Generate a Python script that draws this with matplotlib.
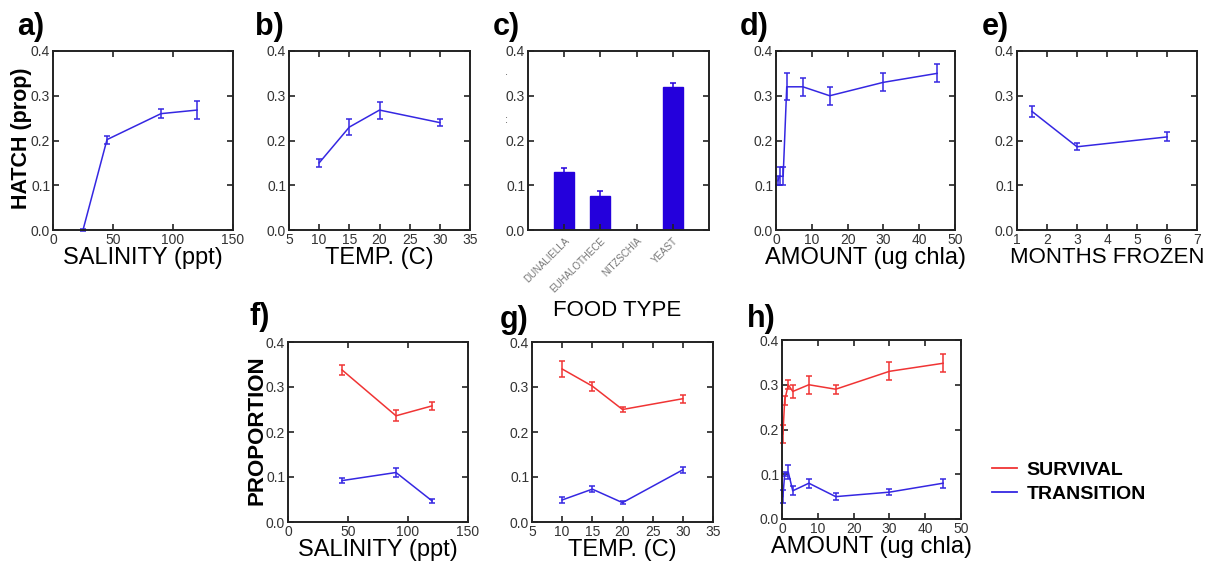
import matplotlib
matplotlib.use('Agg')
import matplotlib.pyplot as plt
import numpy as np
from matplotlib.ticker import FuncFormatter, MultipleLocator
from matplotlib.lines import Line2D

plt.rcParams['font.family'] = ['Liberation Sans', 'DejaVu Sans']

BLUE = '#3527e2'
BAR = '#2400dc'
RED = '#f03434'

# a) hatch vs salinity
sal_x = [25, 45, 90, 120]
sal_hatch = [0.0, 0.202, 0.26, 0.268]
sal_hatch_err = [0.003, 0.009, 0.01, 0.02]

# b) hatch vs temperature
temp_x = [10, 15, 20, 30]
temp_hatch = [0.15, 0.23, 0.268, 0.24]
temp_hatch_err = [0.009, 0.017, 0.019, 0.008]

# c) hatch vs food type
foods = ['DUNALIELLA', 'EUHALOTHECE', 'NITZSCHIA', 'YEAST']
food_hatch = [0.13, 0.075, 0.0, 0.32]
food_hatch_err = [0.008, 0.012, 0.0, 0.008]

# d) hatch vs food amount
amt_x = [0.5, 1, 2, 3, 7.5, 15, 30, 45]
amt_hatch = [0.11, 0.12, 0.12, 0.32, 0.32, 0.30, 0.33, 0.35]
amt_hatch_err = [0.01, 0.02, 0.02, 0.03, 0.02, 0.02, 0.02, 0.02]

# e) hatch vs months frozen
months_x = [1.5, 3, 6]
months_hatch = [0.265, 0.186, 0.208]
months_hatch_err = [0.012, 0.008, 0.01]

# f) survival / transition vs salinity
sal2_x = [45, 90, 120]
sal_surv = [0.338, 0.236, 0.258]
sal_surv_err = [0.012, 0.012, 0.008]
sal_trans = [0.092, 0.11, 0.047]
sal_trans_err = [0.005, 0.01, 0.004]

# g) survival / transition vs temperature
temp_surv = [0.34, 0.302, 0.25, 0.274]
temp_surv_err = [0.018, 0.01, 0.006, 0.009]
temp_trans = [0.049, 0.073, 0.043, 0.116]
temp_trans_err = [0.006, 0.007, 0.004, 0.007]

# h) survival / transition vs amount
amt2_x = [0.25, 0.75, 1.75, 3, 7.5, 15, 30, 45]
amt_surv = [0.19, 0.265, 0.30, 0.285, 0.30, 0.29, 0.33, 0.348]
amt_surv_err = [0.02, 0.01, 0.01, 0.015, 0.02, 0.01, 0.02, 0.02]
amt_trans = [0.05, 0.10, 0.105, 0.063, 0.08, 0.05, 0.06, 0.08]
amt_trans_err = [0.015, 0.005, 0.015, 0.01, 0.01, 0.008, 0.007, 0.01]

W, H = 1207, 562
fig = plt.figure(figsize=(W / 100, H / 100), dpi=100)


def px_axes(left, top, right, bottom):
    return fig.add_axes([left / W, 1 - bottom / H, (right - left) / W, (bottom - top) / H])


def style(ax, xlim, xstep, xlab, labsize=17):
    ax.set_ylim(0, 0.4)
    ax.set_yticks(np.arange(0, 0.41, 0.1))
    ax.yaxis.set_major_formatter(FuncFormatter(lambda v, p: '%.1f' % v))
    if xlim is not None:
        ax.set_xlim(*xlim)
        ax.xaxis.set_major_locator(MultipleLocator(xstep))
        ax.xaxis.set_major_formatter(FuncFormatter(lambda v, p: '%g' % v))
    ax.tick_params(direction='in', top=True, right=True, length=4, width=1.2,
                   labelsize=10, labelcolor='#333333', color='#222222', pad=2)
    for s in ax.spines.values():
        s.set_linewidth(1.4)
        s.set_color('#222222')
    if xlab:
        ax.set_xlabel(xlab, fontsize=labsize, labelpad=0)


def eb(ax, x, y, e, c):
    ax.errorbar(x, y, yerr=e, color=c, lw=1.1, elinewidth=1.1,
                capsize=2.5, capthick=1.1, clip_on=False)


ax = px_axes(53, 51, 233, 230)
eb(ax, sal_x, sal_hatch, sal_hatch_err, BLUE)
style(ax, (0, 150), 50, 'SALINITY (ppt)')

ax = px_axes(289, 51, 470, 230)
eb(ax, temp_x, temp_hatch, temp_hatch_err, BLUE)
style(ax, (5, 35), 5, 'TEMP. (C)')

ax = px_axes(528, 51, 709, 230)
pos = np.arange(1, len(foods) + 1)
ax.bar(pos, food_hatch, width=0.55, color=BAR, edgecolor=BAR, linewidth=1,
       yerr=food_hatch_err, error_kw=dict(ecolor=BAR, capsize=2.5, elinewidth=1.1, capthick=1.1))
ax.set_xlim(0, 5)
ax.set_xticks(pos)
ax.set_xticklabels(foods, rotation=45, ha='right', rotation_mode='anchor')
style(ax, None, None, None)
ax.tick_params(axis='x', labelsize=7, labelcolor='#777777', pad=4)
fig.text(617 / W, 1 - 311 / H, 'FOOD TYPE', fontsize=16, ha='center', va='center')
fig.text(507 / W, 1 - 120 / H, ':', fontsize=8, color='#555555', ha='center', va='center')
fig.text(507 / W, 1 - 72 / H, '.', fontsize=8, color='#555555', ha='center', va='center')

ax = px_axes(776, 51, 955, 230)
eb(ax, amt_x, amt_hatch, amt_hatch_err, BLUE)
style(ax, (0, 50), 10, 'AMOUNT (ug chla)')

ax = px_axes(1017, 51, 1197, 230)
eb(ax, months_x, months_hatch, months_hatch_err, BLUE)
style(ax, (1, 7), 1, 'MONTHS FROZEN', labsize=16)

ax = px_axes(288, 342, 468, 522)
eb(ax, sal2_x, sal_surv, sal_surv_err, RED)
eb(ax, sal2_x, sal_trans, sal_trans_err, BLUE)
style(ax, (0, 150), 50, 'SALINITY (ppt)')

ax = px_axes(532, 342, 713, 522)
eb(ax, temp_x, temp_surv, temp_surv_err, RED)
eb(ax, temp_x, temp_trans, temp_trans_err, BLUE)
style(ax, (5, 35), 5, 'TEMP. (C)')

ax = px_axes(782, 340, 961, 519)
eb(ax, amt2_x, amt_surv, amt_surv_err, RED)
eb(ax, amt2_x, amt_trans, amt_trans_err, BLUE)
style(ax, (0, 50), 10, 'AMOUNT (ug chla)')

fig.text(22 / W, 1 - 138 / H, 'HATCH (prop)', rotation=90, fontsize=15.5,
         fontweight='bold', ha='center', va='center')
fig.text(257 / W, 1 - 430 / H, 'PROPORTION', rotation=90, fontsize=16,
         fontweight='bold', ha='center', va='center')

panel_pos = [('a)', 17, 35), ('b)', 255, 35), ('c)', 493, 35), ('d)', 740, 35),
             ('e)', 982, 35), ('f)', 250, 325), ('g)', 500, 328), ('h)', 747, 327)]
for lab, px, py in panel_pos:
    fig.text(px / W, 1 - py / H, lab, fontsize=22, fontweight='bold',
             ha='left', va='baseline')

handles = [Line2D([], [], color=RED, lw=1.3), Line2D([], [], color=BLUE, lw=1.3)]
fig.legend(handles, ['SURVIVAL', 'TRANSITION'], loc='center left',
           bbox_to_anchor=(974 / W, 1 - 482 / H), frameon=False,
           prop=dict(weight='bold', size=14), handlelength=1.3,
           handletextpad=0.5, labelspacing=0.3)

fig.savefig('out.png', dpi=100)
